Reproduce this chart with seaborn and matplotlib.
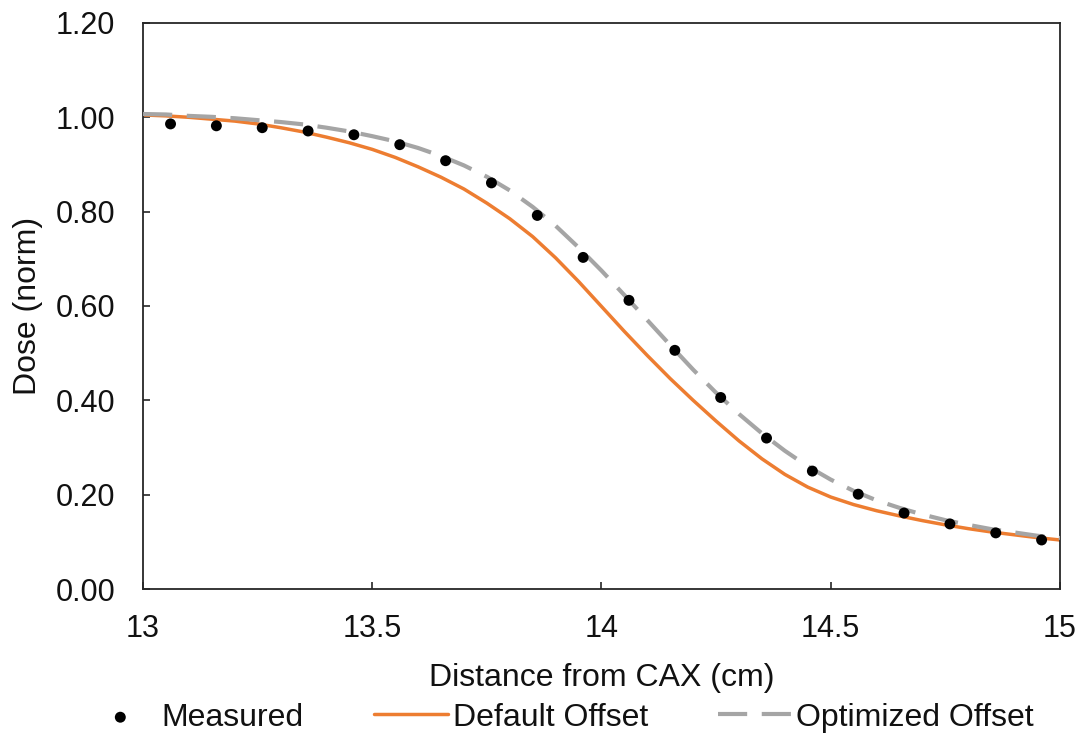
import numpy as np
import pandas as pd
import matplotlib
matplotlib.use("Agg")
import matplotlib.pyplot as plt
import seaborn as sns

# Measured points
meas_x = [13.06, 13.16, 13.26, 13.36, 13.46, 13.56, 13.66, 13.76, 13.86, 13.96,
          14.06, 14.16, 14.26, 14.36, 14.46, 14.56, 14.66, 14.76, 14.86, 14.96]
meas_y = [0.986, 0.982, 0.978, 0.971, 0.963, 0.942, 0.908, 0.861, 0.792, 0.703,
          0.612, 0.506, 0.406, 0.320, 0.250, 0.201, 0.161, 0.138, 0.119, 0.104]

# Curves (read every 0.05 cm)
curve_x = [13.00, 13.05, 13.10, 13.15, 13.20, 13.25, 13.30, 13.35, 13.40, 13.45,
           13.50, 13.55, 13.60, 13.65, 13.70, 13.75, 13.80, 13.85, 13.90, 13.95,
           14.00, 14.05, 14.10, 14.15, 14.20, 14.25, 14.30, 14.35, 14.40, 14.45,
           14.50, 14.55, 14.60, 14.65, 14.70, 14.75, 14.80, 14.85, 14.90, 14.95, 15.00]
default_y = [1.005, 1.003, 1.000, 0.996, 0.992, 0.986, 0.978, 0.969, 0.958, 0.946,
             0.932, 0.915, 0.895, 0.873, 0.848, 0.818, 0.785, 0.747, 0.702, 0.652,
             0.599, 0.546, 0.495, 0.446, 0.400, 0.356, 0.314, 0.276, 0.243, 0.216,
             0.195, 0.179, 0.166, 0.155, 0.145, 0.136, 0.128, 0.121, 0.115, 0.109, 0.104]
optimized_y = [1.007, 1.006, 1.003, 1.001, 0.998, 0.994, 0.990, 0.985, 0.978, 0.970,
               0.960, 0.949, 0.935, 0.918, 0.898, 0.874, 0.845, 0.810, 0.770, 0.724,
               0.675, 0.623, 0.570, 0.517, 0.465, 0.416, 0.371, 0.330, 0.293, 0.260,
               0.232, 0.208, 0.188, 0.172, 0.158, 0.146, 0.136, 0.127, 0.120, 0.113, 0.108]

x_ticks = [13, 13.5, 14, 14.5, 15]
x_tick_labels = ["13", "13.5", "14", "14.5", "15"]
y_ticks = [0.0, 0.2, 0.4, 0.6, 0.8, 1.0, 1.2]
y_tick_labels = ["0.00", "0.20", "0.40", "0.60", "0.80", "1.00", "1.20"]

sns.set_theme(style="white")
plt.rcParams['font.family'] = ['Liberation Sans', 'DejaVu Sans']
plt.rcParams['font.size'] = 22

fig = plt.figure(figsize=(10.86, 7.36), dpi=100)
ax = fig.add_axes([0.1317, 0.1997, 0.8443, 0.7691])

df_curves = pd.DataFrame({"x": curve_x, "default": default_y, "optimized": optimized_y})
df_meas = pd.DataFrame({"x": meas_x, "y": meas_y})

sns.lineplot(data=df_curves, x="x", y="default", ax=ax, color="#ED7D31",
             linewidth=2.5, label="Default Offset", zorder=2)
sns.lineplot(data=df_curves, x="x", y="optimized", ax=ax, color="#A5A5A5",
             linewidth=3.0, dashes=False, label="Optimized Offset", zorder=3)
ax.lines[-1].set_dashes([7, 3.5])
sns.scatterplot(data=df_meas, x="x", y="y", ax=ax, color="black", s=62,
                edgecolor="none", label="Measured", zorder=4)

ax.set_xlim(13, 15)
ax.set_ylim(0, 1.2)
ax.set_xticks(x_ticks)
ax.set_xticklabels(x_tick_labels)
ax.set_yticks(y_ticks)
ax.set_yticklabels(y_tick_labels)
ax.tick_params(axis="both", direction="in", length=5, width=1.2, colors="#262626",
               labelsize=22, labelcolor="#111111", bottom=True, left=True)
ax.tick_params(axis="x", pad=18)
ax.tick_params(axis="y", pad=20)
for s in ax.spines.values():
    s.set_color("#262626")
    s.set_linewidth(1.3)
ax.set_xlabel("Distance from CAX (cm)", fontsize=23, color="#111111", labelpad=14)
ax.set_ylabel("Dose (norm)", fontsize=23, color="#111111", labelpad=9)

handles, labels = ax.get_legend_handles_labels()
order = [labels.index("Measured"), labels.index("Default Offset"), labels.index("Optimized Offset")]
ax.legend([handles[i] for i in order], [labels[i] for i in order],
          loc="center", bbox_to_anchor=(0.5145, 0.025), bbox_transform=fig.transFigure,
          ncol=3, frameon=False, fontsize=23, handlelength=2.3, handletextpad=0.15,
          columnspacing=2.2, borderaxespad=0, labelcolor="#111111")

fig.savefig("out.png", dpi=100)
